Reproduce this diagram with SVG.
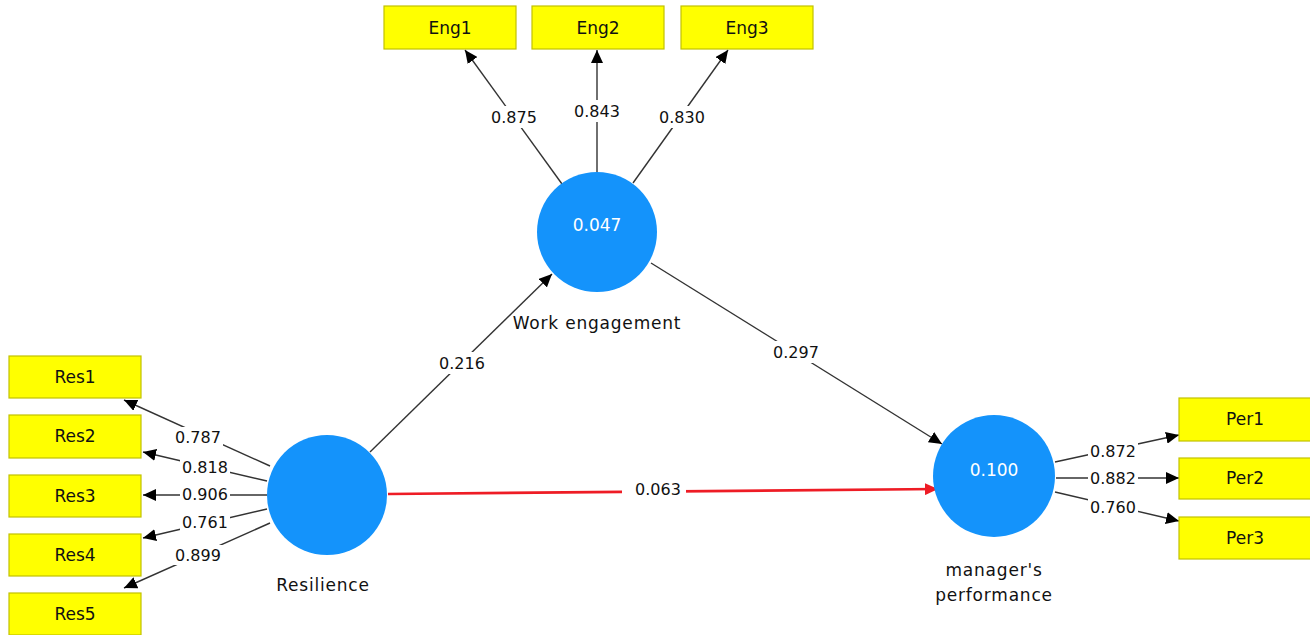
<svg xmlns="http://www.w3.org/2000/svg" width="1310" height="635" viewBox="0 0 1310 635">
<style>
text{font-family:"DejaVu Sans","Liberation Sans",sans-serif;font-size:16px;fill:#111;text-anchor:middle}
.nm{font-size:17px}
.cn{font-size:17px;letter-spacing:0.8px}
.box{fill:#ffff00;stroke:#c2c200;stroke-width:1.2}
.lv{fill:#1493fb}
.lvt{fill:#fff;font-size:17px}
.ln{stroke:#333;stroke-width:1.4;fill:none;marker-end:url(#ah)}
.red{stroke:#ee1c25;stroke-width:2.6;fill:none;marker-end:url(#ahr)}
.lb{fill:#fff}
</style>
<defs>
<marker id="ah" markerUnits="userSpaceOnUse" markerWidth="14" markerHeight="12" refX="13" refY="6" orient="auto"><path d="M0,0 L13,6 L0,12 z" fill="#000"/></marker>
<marker id="ahr" markerUnits="userSpaceOnUse" markerWidth="14" markerHeight="12" refX="13" refY="6" orient="auto"><path d="M0,0 L13,6 L0,12 z" fill="#ee1c25"/></marker>
</defs>
<rect width="1310" height="635" fill="#fff"/>
<g id="connectors">
<line class="ln" x1="562" y1="184" x2="465" y2="50"/>
<line class="ln" x1="597" y1="172" x2="597" y2="50"/>
<line class="ln" x1="633" y1="183" x2="728" y2="50"/>
<line class="ln" x1="270" y1="466" x2="124" y2="400"/>
<line class="ln" x1="267" y1="481" x2="143" y2="452"/>
<line class="ln" x1="267" y1="495" x2="143" y2="495"/>
<line class="ln" x1="267" y1="509" x2="143" y2="538"/>
<line class="ln" x1="270" y1="523" x2="124" y2="588"/>
<line class="ln" x1="1055" y1="462" x2="1179" y2="435"/>
<line class="ln" x1="1056" y1="478" x2="1179" y2="478"/>
<line class="ln" x1="1055" y1="492" x2="1179" y2="521"/>
<line class="ln" x1="370" y1="452" x2="552" y2="274"/>
<line class="ln" x1="651" y1="263" x2="942" y2="444"/>
<line class="red" x1="388" y1="494" x2="938" y2="489"/>
<g id="labels">
<rect class="lb" x="489" y="106" width="50" height="22"/><text x="514" y="123">0.875</text>
<rect class="lb" x="572" y="100" width="50" height="22"/><text x="597" y="117">0.843</text>
<rect class="lb" x="657" y="106" width="50" height="22"/><text x="682" y="123">0.830</text>
<rect class="lb" x="437" y="352" width="50" height="22"/><text x="462" y="369">0.216</text>
<rect class="lb" x="771" y="341" width="50" height="22"/><text x="796" y="358">0.297</text>
<rect class="lb" x="622" y="478" width="64" height="22"/><text x="658" y="495">0.063</text>
<rect class="lb" x="173" y="427" width="50" height="20"/><text x="198" y="443">0.787</text>
<rect class="lb" x="180" y="457" width="50" height="20"/><text x="205" y="473">0.818</text>
<rect class="lb" x="180" y="484" width="50" height="20"/><text x="205" y="500">0.906</text>
<rect class="lb" x="180" y="512" width="50" height="20"/><text x="205" y="528">0.761</text>
<rect class="lb" x="173" y="545" width="50" height="20"/><text x="198" y="561">0.899</text>
<rect class="lb" x="1088" y="441" width="50" height="20"/><text x="1113" y="457">0.872</text>
<rect class="lb" x="1088" y="468" width="50" height="20"/><text x="1113" y="484">0.882</text>
<rect class="lb" x="1088" y="497" width="50" height="20"/><text x="1113" y="513">0.760</text>
</g>
</g>
<g id="Eng1"><rect class="box" x="384" y="6" width="132" height="43"/><text class="nm" x="450" y="34">Eng1</text></g>
<g id="Eng2"><rect class="box" x="532" y="6" width="132" height="43"/><text class="nm" x="598" y="34">Eng2</text></g>
<g id="Eng3"><rect class="box" x="681" y="6" width="132" height="43"/><text class="nm" x="747" y="34">Eng3</text></g>
<g id="Res1"><rect class="box" x="9" y="356" width="132" height="42"/><text class="nm" x="75" y="383">Res1</text></g>
<g id="Res2"><rect class="box" x="9" y="415" width="132" height="43"/><text class="nm" x="75" y="442">Res2</text></g>
<g id="Res3"><rect class="box" x="9" y="475" width="132" height="42"/><text class="nm" x="75" y="502">Res3</text></g>
<g id="Res4"><rect class="box" x="9" y="534" width="132" height="42"/><text class="nm" x="75" y="561">Res4</text></g>
<g id="Res5"><rect class="box" x="9" y="593" width="132" height="42"/><text class="nm" x="75" y="620">Res5</text></g>
<g id="Per1"><rect class="box" x="1179" y="398" width="132" height="43"/><text class="nm" x="1245" y="425">Per1</text></g>
<g id="Per2"><rect class="box" x="1179" y="458" width="132" height="41"/><text class="nm" x="1245" y="484">Per2</text></g>
<g id="Per3"><rect class="box" x="1179" y="517" width="132" height="42"/><text class="nm" x="1245" y="544">Per3</text></g>
<g id="WorkEngagement"><circle class="lv" cx="597" cy="232" r="60"/><text class="lvt" x="597" y="231">0.047</text><text class="cn" x="597" y="329">Work engagement</text></g>
<g id="Resilience"><circle class="lv" cx="327" cy="495" r="60"/><text class="cn" x="323" y="591">Resilience</text></g>
<g id="ManagersPerformance"><circle class="lv" cx="994" cy="476" r="61"/><text class="lvt" x="994" y="476">0.100</text><text class="cn" x="994" y="576">manager's</text><text class="cn" x="994" y="601">performance</text></g>
</svg>
